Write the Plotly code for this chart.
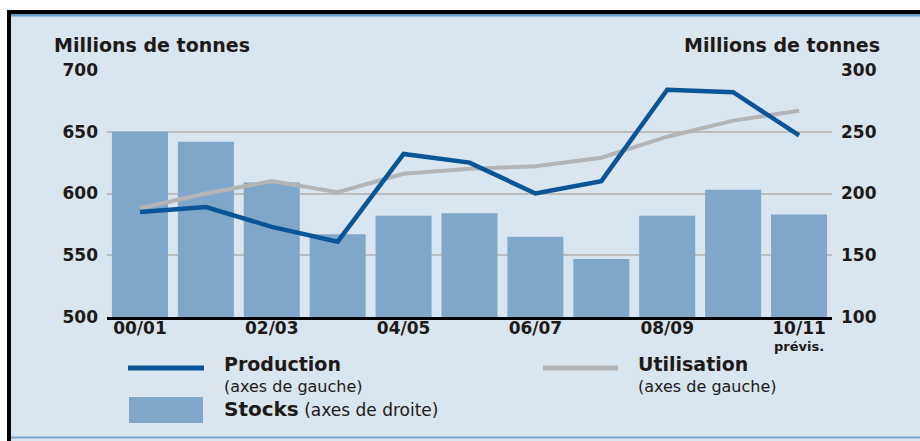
import plotly.graph_objects as go

categories = ["00/01", "01/02", "02/03", "03/04", "04/05", "05/06",
              "06/07", "07/08", "08/09", "09/10", "10/11"]
production = [585, 589, 573, 561, 632, 625, 600, 610, 684, 682, 647]
utilisation = [588, 600, 610, 601, 616, 620, 622, 629, 646, 659, 667]
stocks = [250, 242, 209, 167, 182, 184, 165, 147, 182, 203, 183]
tick_vals = ["00/01", "02/03", "04/05", "06/07", "08/09", "10/11"]
left_ticks = [500, 550, 600, 650, 700]
right_ticks = [100, 150, 200, 250, 300]

BG = "#D9E5EF"
BAR = "#7FA7C9"
PROD = "#0A5597"
UTIL = "#B4B4B4"
TXT = "#1E1A18"
FONT = "DejaVu Sans"

W, H = 920, 441
L, R, T, B = 107, 832, 70, 317


def px(x):
    return (x - L) / (R - L)


def py(y):
    return (B - y) / (B - T)


fig = go.Figure()
fig.add_trace(go.Bar(x=categories, y=stocks, marker_color=BAR,
                     marker_line_width=0, yaxis="y", name="Stocks"))
fig.add_trace(go.Scatter(x=categories, y=utilisation, mode="lines",
                         line=dict(color=UTIL, width=4), yaxis="y2",
                         name="Utilisation"))
fig.add_trace(go.Scatter(x=categories, y=production, mode="lines",
                         line=dict(color=PROD, width=4.5), yaxis="y2",
                         name="Production"))

tickfont = dict(family=FONT, size=17, color=TXT, weight="bold")

shapes = []
# panel decorations
shapes.append(dict(type="rect", xref="paper", yref="paper",
                   x0=px(-5), x1=px(W + 5), y0=py(-5), y1=py(10),
                   fillcolor="white", line_width=0, layer="below"))
shapes.append(dict(type="rect", xref="paper", yref="paper",
                   x0=px(-5), x1=px(7), y0=py(-5), y1=py(H + 5),
                   fillcolor="white", line_width=0, layer="below"))
shapes.append(dict(type="rect", xref="paper", yref="paper",
                   x0=px(7), x1=px(W + 5), y0=py(10), y1=py(14),
                   fillcolor="black", line_width=0))
shapes.append(dict(type="rect", xref="paper", yref="paper",
                   x0=px(7), x1=px(11), y0=py(10), y1=py(H + 5),
                   fillcolor="black", line_width=0))
shapes.append(dict(type="rect", xref="paper", yref="paper",
                   x0=px(11), x1=px(W + 5), y0=py(14), y1=py(16.5),
                   fillcolor="#6C9BC4", line_width=0))
shapes.append(dict(type="rect", xref="paper", yref="paper",
                   x0=px(11), x1=px(W + 5), y0=py(436.5), y1=py(438.5),
                   fillcolor="#7BA3C8", line_width=0))
# legend symbols
shapes.append(dict(type="line", xref="paper", yref="paper",
                   x0=px(128), x1=px(204), y0=py(368), y1=py(368),
                   line=dict(color=PROD, width=5)))
shapes.append(dict(type="line", xref="paper", yref="paper",
                   x0=px(543), x1=px(618), y0=py(368), y1=py(368),
                   line=dict(color=UTIL, width=5)))
shapes.append(dict(type="rect", xref="paper", yref="paper",
                   x0=px(129), x1=px(203), y0=py(397), y1=py(423),
                   fillcolor=BAR, line_width=0))


def ann(text, x, y, size, xanchor="left", bold=False):
    return dict(text=text, xref="paper", yref="paper", x=px(x), y=py(y),
                xanchor=xanchor, yanchor="middle", showarrow=False,
                font=dict(family=FONT, size=size, color=TXT,
                          weight="bold" if bold else "normal"))


annotations = [
    ann("Millions de tonnes", 52, 45, 19, bold=True),
    ann("Millions de tonnes", 882, 45, 19, xanchor="right", bold=True),
    ann("Production", 222, 364, 19, bold=True),
    ann("(axes de gauche)", 222, 386, 16),
    ann("Utilisation", 636, 364, 19, bold=True),
    ann("(axes de gauche)", 636, 386, 16),
    ann("<b>Stocks</b><span style='font-size:17px'> (axes de droite)</span>",
        222, 409, 20),
    ann("prévis.", 799, 346, 13, xanchor="center", bold=True),
]

fig.update_layout(
    width=W, height=H, autosize=False,
    margin=dict(l=L, r=W - R, t=T, b=H - B, pad=0),
    paper_bgcolor=BG, plot_bgcolor="rgba(0,0,0,0)",
    showlegend=False, bargap=0.15,
    shapes=shapes, annotations=annotations,
    xaxis=dict(type="category", categoryorder="array",
               categoryarray=categories, range=[-0.5, 10.5],
               tickvals=tick_vals, ticktext=tick_vals, ticks="",
               showline=True, linecolor="black", linewidth=3,
               showgrid=False, zeroline=False, tickfont=tickfont,
               ticklabelstandoff=-6),
    yaxis=dict(side="right", range=[100, 300], tickvals=right_ticks,
               showgrid=True, gridcolor="#BDBDBD", gridwidth=1.5,
               zeroline=False, showline=False, ticks="",
               tickfont=tickfont, ticklabelstandoff=8),
    yaxis2=dict(overlaying="y", side="left", range=[500, 700],
                tickvals=left_ticks, showgrid=False, zeroline=False,
                showline=False, ticks="", tickfont=tickfont,
                ticklabelstandoff=8),
)

fig.write_html(
    "out.html",
    config={"displayModeBar": False},
    post_script="document.body.style.margin='0';"
                "document.body.style.overflow='hidden';",
)
